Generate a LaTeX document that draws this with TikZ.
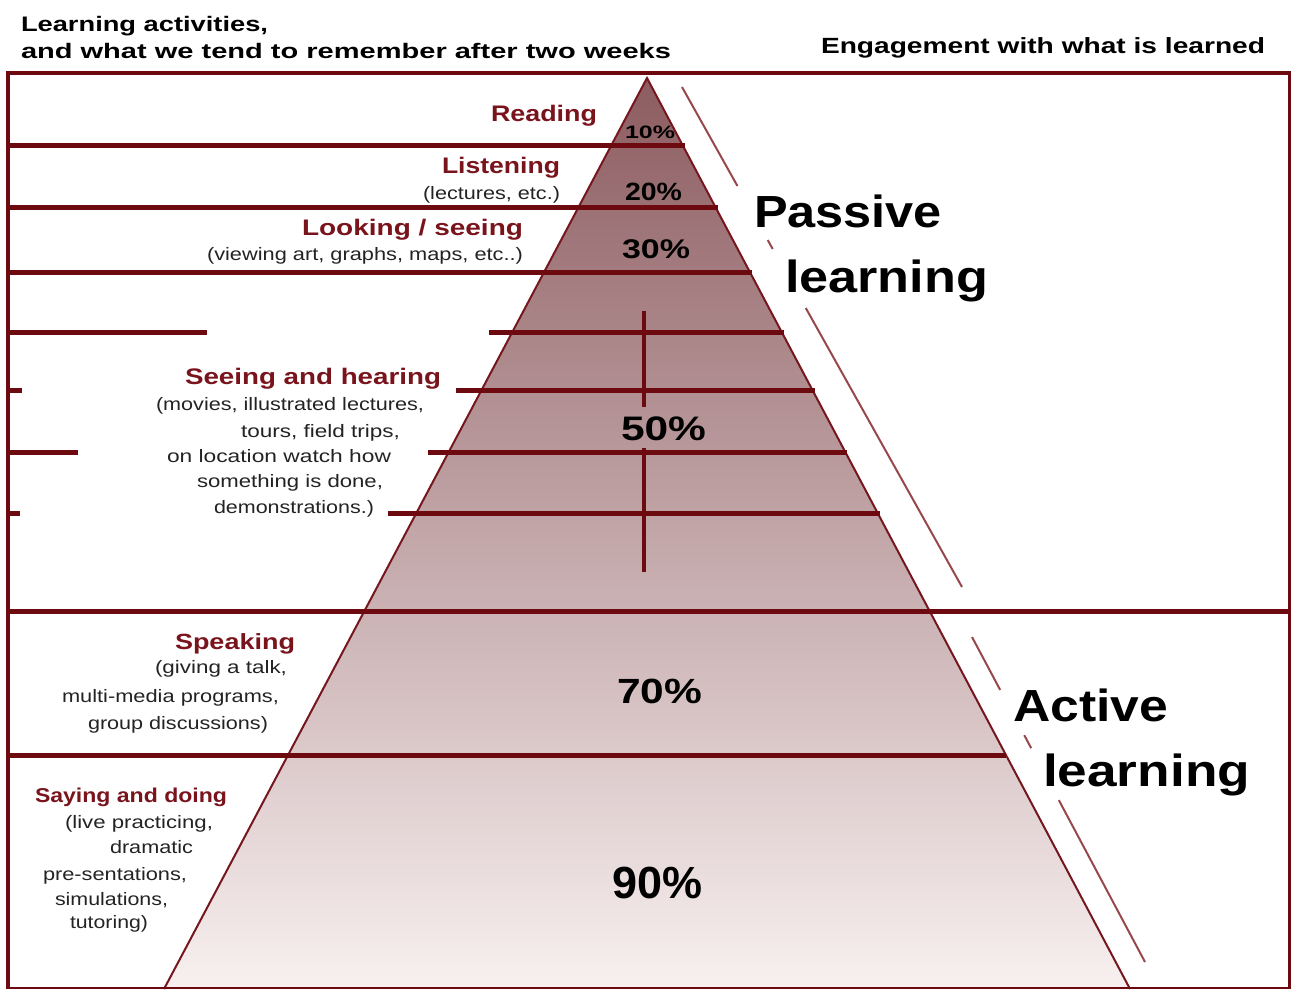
\documentclass[tikz,border=0pt]{standalone}
\usepackage{fontspec}
\setmainfont{Liberation Sans}
\usetikzlibrary{calc}
\definecolor{lineRed}{RGB}{109,10,15}
\definecolor{textRed}{RGB}{122,20,28}
\definecolor{edgeRed}{RGB}{118,22,30}
\definecolor{diagRed}{RGB}{150,72,77}
\definecolor{pyrTop}{RGB}{140,92,96}
\definecolor{pyrBot}{RGB}{248,240,240}
\definecolor{subGray}{RGB}{35,35,35}
\newcommand{\fw}[2]{\resizebox{#1pt}{\height}{#2}}
\begin{document}
\begin{tikzpicture}[x=1pt,y=-1pt,
  txt/.style={inner sep=0pt, outer sep=0pt, anchor=base west},
  head/.style={txt, font=\fontsize{#1}{#1}\selectfont\bfseries, text=black},
  act/.style={txt, font=\fontsize{#1}{#1}\selectfont\bfseries, text=textRed},
  sub/.style={txt, font=\fontsize{18}{20}\selectfont, text=subGray},
  pct/.style={txt, font=\fontsize{#1}{#1}\selectfont\bfseries, text=black},
  big/.style={txt, font=\fontsize{45}{48}\selectfont\bfseries, text=black},
  band/.style={draw=lineRed, line width=5pt},
  frameline/.style={draw=lineRed, line width=#1},
  diag/.style={draw=diagRed, line width=2pt},
  pyredge/.style={draw=edgeRed, line width=2pt, line join=miter}]
\useasboundingbox (0,0) rectangle (1292,989);
% pyramid
\coordinate (apex) at (647,78);
\coordinate (bl) at (164,989);
\coordinate (br) at (1130,989);
\shade[top color=pyrTop, bottom color=pyrBot] (apex) -- (bl) -- (br) -- cycle;
\draw[pyredge] (bl) -- (apex) -- (br);
% frame
\draw[frameline=4.5pt] (6,73) -- (1291,73);
\draw[frameline=4pt] (8,71) -- (8,989);
\draw[frameline=3pt] (1289,71) -- (1289,989);
\draw[frameline=2pt] (8,988) -- (1289,988);
% bands
\draw[band] (8,145) -- (685,145);
\draw[band] (8,207) -- (718,207);
\draw[band] (8,272) -- (752,272);
\draw[band] (8,332) -- (207,332);
\draw[band] (489,332) -- (784,332);
\draw[band] (8,390) -- (22,390);
\draw[band] (456,390) -- (815,390);
\draw[band] (8,452) -- (78,452);
\draw[band] (428,452) -- (847,452);
\draw[band] (8,513) -- (20,513);
\draw[band] (388,513) -- (880,513);
\draw[band] (8,611) -- (1289,611);
\draw[band] (8,755) -- (1006,755);
% vertical line in 50% zone
\coordinate (vtop) at (644,311);
\coordinate (vm1) at (644,407);
\coordinate (vm2) at (644,448);
\coordinate (vbot) at (644,572);
\draw[draw=lineRed, line width=4pt] (vtop) -- (vm1);
\draw[draw=lineRed, line width=4pt] (vm2) -- (vbot);
% diagonal guide lines
\coordinate (pa) at (682,87); \coordinate (pb) at (962,587);
\draw[diag] (pa) -- ($(pa)!0.198!(pb)$);
\draw[diag] ($(pa)!0.306!(pb)$) -- ($(pa)!0.324!(pb)$);
\draw[diag] ($(pa)!0.442!(pb)$) -- (pb);
\coordinate (aa) at (972,637); \coordinate (ab) at (1145,962);
\draw[diag] (aa) -- ($(aa)!0.163!(ab)$);
\draw[diag] ($(aa)!0.302!(ab)$) -- ($(aa)!0.342!(ab)$);
\draw[diag] ($(aa)!0.502!(ab)$) -- (ab);
% headers
\node[head=21] (hdrA) at (21,31) {\fw{247}{Learning activities,}};
\node[head=21] (hdrB) at (21,58) {\fw{650}{and what we tend to remember after two weeks}};
\node[head=22] (eng) at (821,53) {\fw{444}{Engagement with what is learned}};
% activity labels
\node[act=22.5] (reading) at (491,121) {\fw{106}{Reading}};
\node[act=22.5] (listening) at (442,173) {\fw{118}{Listening}};
\node[sub] (lect) at (423,199) {\fw{137}{(lectures, etc.)}};
\node[act=22.5] (looking) at (302,235) {\fw{221}{Looking / seeing}};
\node[sub] (view) at (207,260) {\fw{316}{(viewing art, graphs, maps, etc..)}};
\node[act=22.5] (seeing) at (185,384) {\fw{256}{Seeing and hearing}};
\node[sub] (mov1) at (156,410) {\fw{268}{(movies, illustrated lectures,}};
\node[sub] (mov2) at (241,437) {\fw{159}{tours, field trips,}};
\node[sub] (mov3) at (167,462) {\fw{224}{on location watch how}};
\node[sub] (mov4) at (197,487) {\fw{186}{something is done,}};
\node[sub] (mov5) at (214,513) {\fw{160}{demonstrations.)}};
\node[act=22] (speaking) at (175,649) {\fw{120}{Speaking}};
\node[sub] (spk1) at (155,673) {\fw{132}{(giving a talk,}};
\node[sub] (spk2) at (62,702) {\fw{217}{multi-media programs,}};
\node[sub] (spk3) at (88,729) {\fw{180}{group discussions)}};
\node[act=20] (saying) at (35,802) {\fw{192}{Saying and doing}};
\node[sub] (say1) at (65,828) {\fw{148}{(live practicing,}};
\node[sub] (say2) at (110,853) {\fw{83}{dramatic}};
\node[sub] (say3) at (43,880) {\fw{144}{pre-sentations,}};
\node[sub] (say4) at (55,905) {\fw{113}{simulations,}};
\node[sub] (say5) at (70,928) {\fw{78}{tutoring)}};
% percentages
\node[pct=18] (p10) at (625,138) {\fw{50}{10\%}};
\node[pct=25] (p20) at (625,200) {\fw{57}{20\%}};
\node[pct=27] (p30) at (622,258) {\fw{68}{30\%}};
\node[pct=34] (p50) at (621,440) {\fw{85}{50\%}};
\node[pct=35] (p70) at (617,703) {\fw{85}{70\%}};
\node[pct=45] (p90) at (612,898) {\fw{90}{90\%}};
% engagement labels
\node[big] (passive) at (754,227) {\fw{188}{Passive}};
\node[big] (plearn) at (785,292) {\fw{203}{learning}};
\node[big] (active) at (1013,721) {\fw{155}{Active}};
\node[big] (alearn) at (1043,786) {\fw{207}{learning}};
\end{tikzpicture}
\end{document}
